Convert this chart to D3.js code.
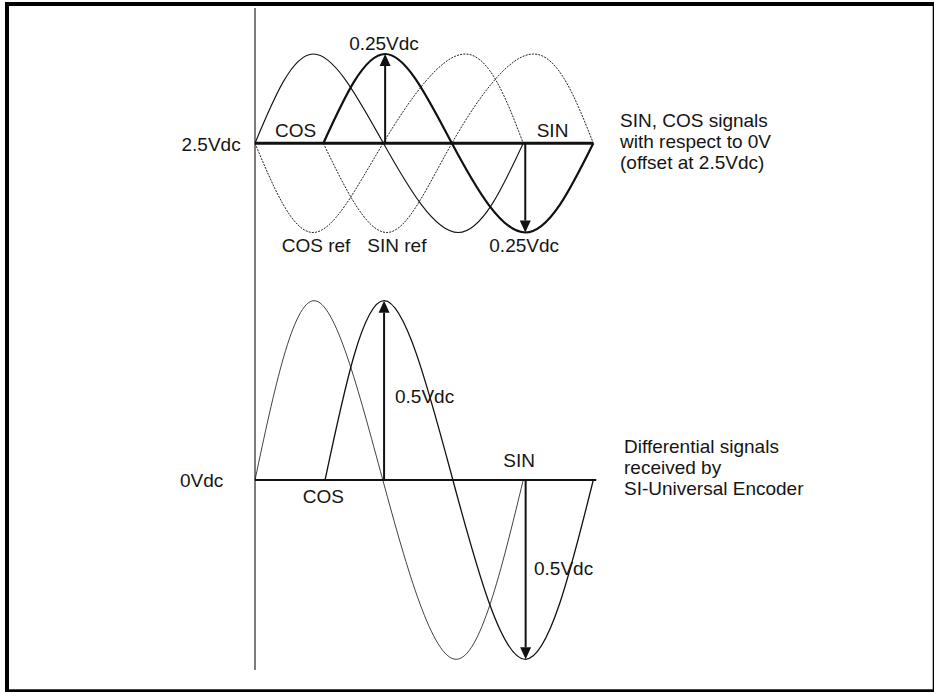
<!DOCTYPE html>
<html>
<head>
<meta charset="utf-8">
<script src="https://cdn.jsdelivr.net/npm/d3@7"></script>
<style>
  html, body { margin: 0; padding: 0; background: #fff; }
  svg { display: block; }
  text { font-family: "Liberation Sans", Arial, sans-serif; font-size: 19px; fill: #151515; }
</style>
</head>
<body>
<svg id="chart" width="934" height="692"></svg>
<script>
// electrical angle (deg), paired with the voltage at that point
const topCos = [[0, 2.5], [77.6, 2.75], [170.8, 2.5], [270.3, 2.25], [356.8, 2.5]];
const topSin = [[90.9, 2.5], [173.1, 2.75], [261.9, 2.5], [359.5, 2.25], [450, 2.5]];
const topCosRef = [[0, 2.5], [77.2, 2.25], [170.4, 2.5], [279.6, 2.75], [356.8, 2.5]];
const topSinRef = [[90.9, 2.5], [175.3, 2.25], [261.9, 2.5], [370.5, 2.75], [450, 2.5]];

const diffCos = [[0, 0], [78.6, 0.5], [170, 0], [267.6, -0.5], [356.8, 0]];
const diffSin = [[93.2, 0], [171.7, 0.5], [263.2, 0], [359.5, -0.5], [450, 0]];

// amplitude arrows: [angle, from, to]
const topArrows = [[173.1, 2.5, 2.75], [359.5, 2.5, 2.25]];
const diffArrows = [[171.7, 0, 0.5], [360, 0, -0.5]];

const topBaseline = [[0, 2.5], [450, 2.5]];
const diffBaseline = [[0, 0], [454, 0]];

const topAxisLabel = "2.5Vdc";
const diffAxisLabel = "0Vdc";
const topLabels = ["0.25Vdc", "COS", "SIN", "COS ref", "SIN ref", "0.25Vdc"];
const diffLabels = ["0.5Vdc", "SIN", "COS", "0.5Vdc"];
const topNote = ["SIN, COS signals", "with respect to 0V", "(offset at 2.5Vdc)"];
const diffNote = ["Differential signals", "received by", "SI-Universal Encoder"];

const svg = d3.select("#chart");

const x = d3.scaleLinear().domain([0, 450]).range([255, 593.3]);
const yTop = d3.scaleLinear().domain([2.25, 2.75]).range([232.5, 54]);
const yDiff = d3.scaleLinear().domain([-0.5, 0.5]).range([659.3, 300.7]);

// frame
svg.append("rect")
  .attr("x", 7).attr("y", 4)
  .attr("width", 927.7).attr("height", 687.3)
  .attr("fill", "none").attr("stroke", "#000").attr("stroke-width", 4);

// vertical reference line
svg.append("line")
  .attr("x1", x(0)).attr("x2", x(0))
  .attr("y1", 8).attr("y2", 670)
  .attr("stroke", "#111").attr("stroke-width", 1.1);

function wave(y) {
  return d3.line().x((d) => x(d[0])).y((d) => y(d[1])).curve(d3.curveNatural);
}

function drawArrows(g, arrows, y) {
  arrows.forEach(([a, v0, v1]) => {
    const dir = v1 > v0 ? 1 : -1;
    const tipY = y(v1);
    const baseY = tipY + dir * 12;
    g.append("line")
      .attr("x1", x(a)).attr("x2", x(a))
      .attr("y1", y(v0)).attr("y2", baseY)
      .attr("stroke", "#111").attr("stroke-width", 2);
    g.append("path")
      .attr("d", `M${x(a)},${tipY}L${x(a) - 5.5},${baseY}L${x(a) + 5.5},${baseY}Z`)
      .attr("fill", "#111");
  });
}

function addText(g, str, px, py, anchor) {
  g.append("text").attr("x", px).attr("y", py).attr("text-anchor", anchor || "start").text(str);
}

// upper panel: single-ended signals
const upper = svg.append("g");
const lineTop = wave(yTop);

[topCosRef, topSinRef].forEach((ref) => {
  upper.append("path").attr("d", lineTop(ref))
    .attr("fill", "none").attr("stroke", "#222").attr("stroke-width", 1)
    .attr("stroke-dasharray", "2,1.2");
});
upper.append("path").attr("d", lineTop(topCos))
  .attr("fill", "none").attr("stroke", "#111").attr("stroke-width", 1.1);
upper.append("path").attr("d", lineTop(topSin))
  .attr("fill", "none").attr("stroke", "#111").attr("stroke-width", 2.2);
upper.append("path").attr("d", d3.line().x((d) => x(d[0])).y((d) => yTop(d[1]))(topBaseline))
  .attr("stroke", "#111").attr("stroke-width", 2.8);
drawArrows(upper, topArrows, yTop);

addText(upper, topAxisLabel, 181.5, 151);
const topPos = [[384, 50, "middle"], [275, 137.3], [536.7, 137.3], [281.7, 251.7], [367.3, 251.7], [489.3, 251.7]];
topLabels.forEach((t, i) => addText(upper, t, topPos[i][0], topPos[i][1], topPos[i][2]));
topNote.forEach((t, i) => addText(upper, t, 620, 126.5 + i * 21));

// lower panel: differential signals
const lower = svg.append("g");
const lineDiff = wave(yDiff);

lower.append("path").attr("d", lineDiff(diffCos))
  .attr("fill", "none").attr("stroke", "#111").attr("stroke-width", 0.8);
lower.append("path").attr("d", lineDiff(diffSin))
  .attr("fill", "none").attr("stroke", "#111").attr("stroke-width", 1.3);
lower.append("path").attr("d", d3.line().x((d) => x(d[0])).y((d) => yDiff(d[1]))(diffBaseline))
  .attr("stroke", "#111").attr("stroke-width", 2.2);
drawArrows(lower, diffArrows, yDiff);

addText(lower, diffAxisLabel, 180, 486.7);
const diffPos = [[395, 402.7], [503.3, 467.3], [302.7, 503.3], [534, 575]];
diffLabels.forEach((t, i) => addText(lower, t, diffPos[i][0], diffPos[i][1]));
diffNote.forEach((t, i) => addText(lower, t, 624, 453.3 + i * 21));
</script>
</body>
</html>
